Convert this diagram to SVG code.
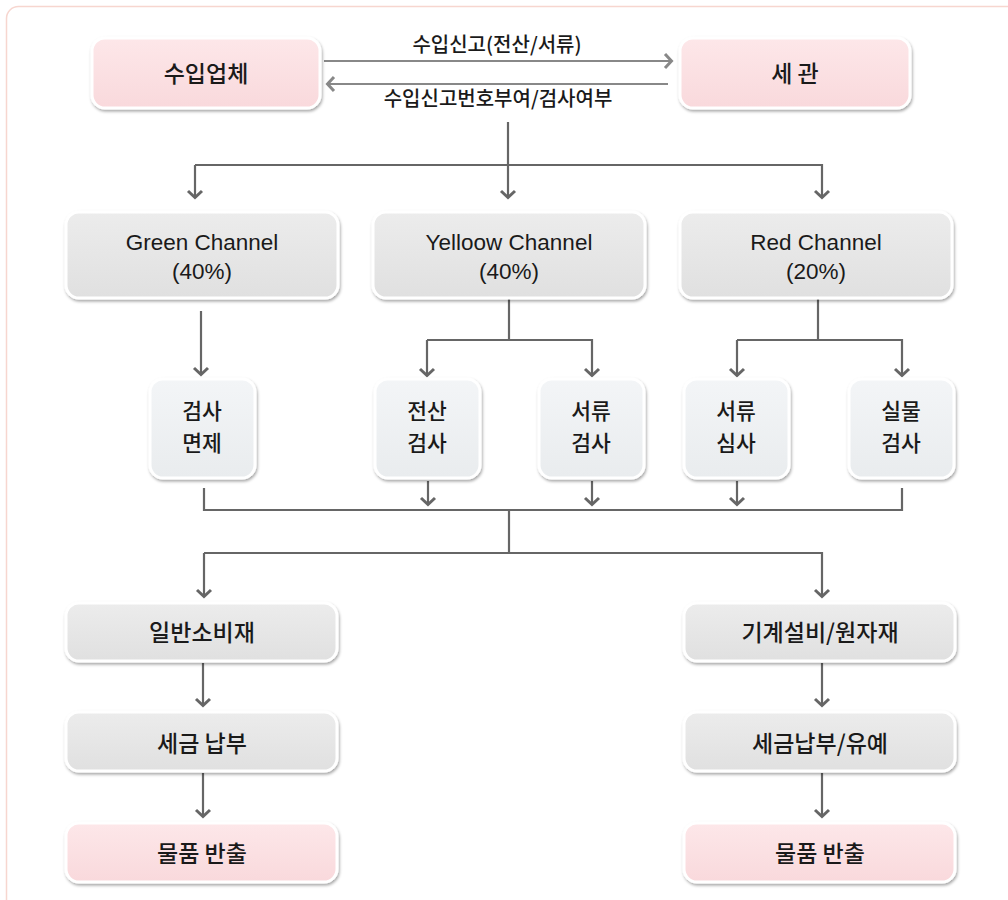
<svg xmlns="http://www.w3.org/2000/svg" width="1008" height="900" viewBox="0 0 1008 900">
  <defs>
    <linearGradient id="gPink" x1="0" y1="0" x2="0" y2="1">
      <stop offset="0" stop-color="#fde7e9"/>
      <stop offset="1" stop-color="#f9d9dc"/>
    </linearGradient>
    <linearGradient id="gGray" x1="0" y1="0" x2="0" y2="1">
      <stop offset="0" stop-color="#ececec"/>
      <stop offset="1" stop-color="#e0e0e0"/>
    </linearGradient>
    <linearGradient id="gLight" x1="0" y1="0" x2="0" y2="1">
      <stop offset="0" stop-color="#f3f5f7"/>
      <stop offset="1" stop-color="#e9ecee"/>
    </linearGradient>
    <filter id="shadow" x="-10%" y="-10%" width="125%" height="130%">
      <feDropShadow dx="1" dy="2" stdDeviation="1.8" flood-color="#000" flood-opacity="0.35"/>
    </filter>
    <marker id="arr" viewBox="-10 -10 20 20" markerWidth="20" markerHeight="20" refX="0" refY="0" orient="auto" markerUnits="userSpaceOnUse">
      <path d="M-7,-7 L-0.5,0 L-7,7" fill="none" stroke="#666" stroke-width="3"/>
    </marker>
    <marker id="arrL" viewBox="-10 -10 20 20" markerWidth="20" markerHeight="20" refX="0" refY="0" orient="auto" markerUnits="userSpaceOnUse">
      <path d="M-7,-7 L-0.5,0 L-7,7" fill="none" stroke="#888" stroke-width="3"/>
    </marker>
  </defs>
  <style>
    .box { stroke: #ffffff; stroke-width: 3; filter: url(#shadow); }
    .pink { fill: url(#gPink); }
    .gray { fill: url(#gGray); }
    .light { fill: url(#gLight); }
    .t { font-family: "Noto Sans CJK KR", "Noto Sans", sans-serif; font-size: 23px; font-weight: 500; fill: #1a1a1a; text-anchor: middle; }
    .t2 { font-family: "Noto Sans CJK KR", "Noto Sans", sans-serif; font-size: 21.5px; font-weight: 500; fill: #1a1a1a; text-anchor: middle; }
    .lat { font-family: "Liberation Sans", "Noto Sans CJK KR", sans-serif; font-size: 22.5px; fill: #1a1a1a; text-anchor: middle; }
    .lbl { font-family: "Noto Sans CJK KR", sans-serif; font-size: 20px; font-weight: 500; fill: #1a1a1a; text-anchor: middle; }
    .c { fill: none; stroke: #666; stroke-width: 2.2; }
    .cl { fill: none; stroke: #888; stroke-width: 2.2; }
  </style>

  <rect x="6.5" y="6.5" width="1100" height="1000" rx="12" fill="none" stroke="#f7d6cf" stroke-width="1.5"/>

  <g id="connectors">
    <line class="cl" x1="324" y1="61" x2="672" y2="61" marker-end="url(#arrL)"/>
    <line class="cl" x1="668" y1="84" x2="327" y2="84" marker-end="url(#arrL)"/>
    <text class="lbl" x="497" y="52">수입신고(전산/서류)</text>
    <text class="lbl" x="498" y="106">수입신고번호부여/검사여부</text>

    <polyline class="c" points="508,122 508,165"/>
    <polyline class="c" points="195,165 822,165 822,198" marker-end="url(#arr)"/>
    <line class="c" x1="195" y1="165" x2="195" y2="198" marker-end="url(#arr)"/>
    <line class="c" x1="508" y1="165" x2="508" y2="198" marker-end="url(#arr)"/>

    <line class="c" x1="201" y1="311" x2="201" y2="375" marker-end="url(#arr)"/>

    <polyline class="c" points="509,298 509,340"/>
    <polyline class="c" points="427,340 592,340 592,376" marker-end="url(#arr)"/>
    <line class="c" x1="427" y1="340" x2="427" y2="376" marker-end="url(#arr)"/>

    <polyline class="c" points="818,298 818,340"/>
    <polyline class="c" points="737,340 902,340 902,376" marker-end="url(#arr)"/>
    <line class="c" x1="737" y1="340" x2="737" y2="376" marker-end="url(#arr)"/>

    <polyline class="c" points="204,488 204,510 902,510 902,488"/>
    <line class="c" x1="428" y1="481" x2="428" y2="505" marker-end="url(#arr)"/>
    <line class="c" x1="592" y1="481" x2="592" y2="505" marker-end="url(#arr)"/>
    <line class="c" x1="737" y1="481" x2="737" y2="505" marker-end="url(#arr)"/>

    <polyline class="c" points="509,510 509,553"/>
    <polyline class="c" points="204,553 822,553 822,597" marker-end="url(#arr)"/>
    <line class="c" x1="204" y1="553" x2="204" y2="597" marker-end="url(#arr)"/>

    <line class="c" x1="203" y1="663" x2="203" y2="706" marker-end="url(#arr)"/>
    <line class="c" x1="203" y1="773" x2="203" y2="817" marker-end="url(#arr)"/>
    <line class="c" x1="822" y1="663" x2="822" y2="706" marker-end="url(#arr)"/>
    <line class="c" x1="822" y1="773" x2="822" y2="817" marker-end="url(#arr)"/>
  </g>

  <g id="importer">
    <rect class="box pink" x="92" y="38" width="228" height="70" rx="13"/>
    <text class="t" x="206" y="82">수입업체</text>
  </g>
  <g id="customs">
    <rect class="box pink" x="680" y="38" width="230" height="70" rx="13"/>
    <text class="t" x="795" y="82">세 관</text>
  </g>

  <g id="green">
    <rect class="box gray" x="66" y="212" width="272" height="86" rx="13"/>
    <text class="lat" x="202" y="250">Green Channel</text>
    <text class="lat" x="202" y="279">(40%)</text>
  </g>
  <g id="yellow">
    <rect class="box gray" x="373" y="212" width="272" height="86" rx="13"/>
    <text class="lat" x="509" y="250">Yelloow Channel</text>
    <text class="lat" x="509" y="279">(40%)</text>
  </g>
  <g id="red">
    <rect class="box gray" x="680" y="212" width="272" height="86" rx="13"/>
    <text class="lat" x="816" y="250">Red Channel</text>
    <text class="lat" x="816" y="279">(20%)</text>
  </g>

  <g id="exempt">
    <rect class="box light" x="150" y="379" width="105" height="99" rx="13"/>
    <text class="t2" x="202" y="419">검사</text>
    <text class="t2" x="202" y="451">면제</text>
  </g>
  <g id="edi">
    <rect class="box light" x="375" y="379" width="105" height="99" rx="13"/>
    <text class="t2" x="427" y="419">전산</text>
    <text class="t2" x="427" y="451">검사</text>
  </g>
  <g id="doc-yellow">
    <rect class="box light" x="539" y="379" width="105" height="99" rx="13"/>
    <text class="t2" x="591" y="419">서류</text>
    <text class="t2" x="591" y="451">검사</text>
  </g>
  <g id="doc-red">
    <rect class="box light" x="684" y="379" width="105" height="99" rx="13"/>
    <text class="t2" x="736" y="419">서류</text>
    <text class="t2" x="736" y="451">심사</text>
  </g>
  <g id="physical">
    <rect class="box light" x="849" y="379" width="105" height="99" rx="13"/>
    <text class="t2" x="901" y="419">실물</text>
    <text class="t2" x="901" y="451">검사</text>
  </g>

  <g id="consumer">
    <rect class="box gray" x="66" y="603" width="271" height="58" rx="13"/>
    <text class="t" x="202" y="641">일반소비재</text>
  </g>
  <g id="tax-left">
    <rect class="box gray" x="66" y="712" width="271" height="59" rx="13"/>
    <text class="t" x="202" y="752">세금 납부</text>
  </g>
  <g id="release-left">
    <rect class="box pink" x="66" y="823" width="271" height="59" rx="13"/>
    <text class="t" x="202" y="862">물품 반출</text>
  </g>
  <g id="machinery">
    <rect class="box gray" x="684" y="603" width="271" height="58" rx="13"/>
    <text class="t" x="820" y="641">기계설비/원자재</text>
  </g>
  <g id="tax-right">
    <rect class="box gray" x="684" y="712" width="271" height="59" rx="13"/>
    <text class="t" x="820" y="752">세금납부/유예</text>
  </g>
  <g id="release-right">
    <rect class="box pink" x="684" y="823" width="271" height="59" rx="13"/>
    <text class="t" x="820" y="862">물품 반출</text>
  </g>
</svg>
